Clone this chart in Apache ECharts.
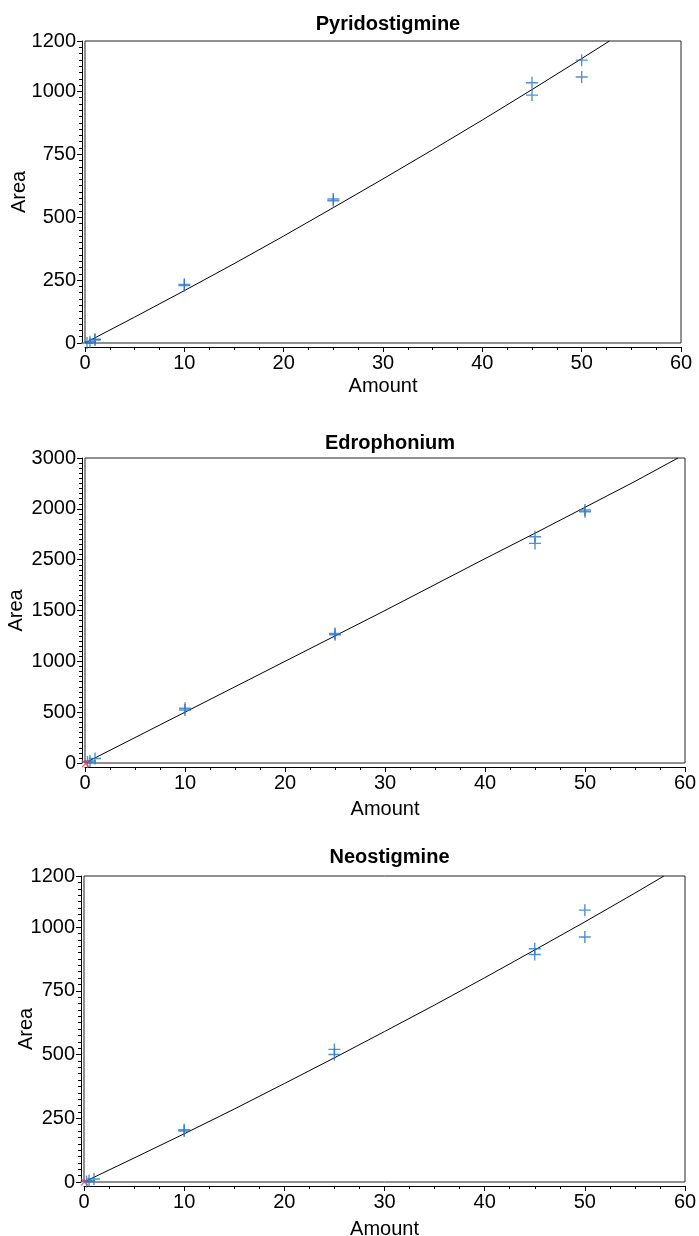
<!DOCTYPE html>
<html><head><meta charset="utf-8">
<script src="https://cdn.jsdelivr.net/npm/echarts@6/dist/echarts.min.js"></script>
<style>html,body{margin:0;padding:0;background:#fff}#c{width:699px;height:1236px}</style>
</head><body><div id="c"></div>
<script>
// ---- Data ----
const titles = ['Pyridostigmine', 'Edrophonium', 'Neostigmine'];
const xTickLabels = ['0', '10', '20', '30', '40', '50', '60'];

// Pyridostigmine
const pyrAmount = [0.2, 0.5, 1, 1, 10, 10, 25, 25, 45, 45, 50, 50];
const pyrArea   = [0, 5, 15, 12, 233, 228, 572, 565, 1034, 985, 1124, 1057];
const pyrFitX   = [0, 5, 10, 15, 20, 25, 30, 35, 40, 45, 50, 52.8];
const pyrFitY   = [0, 103, 208, 315, 425, 538, 652, 768, 886, 1007, 1130, 1200];
const pyrYTicks = ['0', '250', '500', '750', '1000', '1200'];

// Edrophonium
const edrAmount = [0.25, 0.5, 1, 10, 10, 25, 25, 45, 45, 50, 50];
const edrArea   = [10, 20, 45, 538, 521, 1275, 1262, 2226, 2160, 2488, 2472];
const edrExclAmount = [0.05];
const edrExclArea   = [-5];
const edrFitX   = [0, 5, 10, 15, 20, 25, 30, 35, 40, 45, 50, 55, 59.3];
const edrFitY   = [0, 250, 500, 750, 1000, 1250, 1500, 1755, 2010, 2260, 2515, 2770, 3000];
const edrYTicks = ['0', '500', '1000', '1500', '2500', '2000', '3000'];

// Neostigmine
const neoAmount = [0.25, 0.5, 1, 10, 10, 25, 25, 45, 45, 50, 50];
const neoArea   = [2, 5, 12, 205, 200, 520, 500, 915, 892, 1066, 961];
const neoExclAmount = [0.05];
const neoExclArea   = [0];
const neoFitX   = [0, 5, 10, 15, 20, 25, 30, 35, 40, 45, 50, 55, 57.9];
const neoFitY   = [0, 94, 189, 286, 386, 487, 590, 694, 801, 910, 1020, 1133, 1200];
const neoYTicks = ['0', '250', '500', '750', '1000', '1200'];

// ---- Build chart ----
const FONT = '"Liberation Sans", Arial, Helvetica, sans-serif';
const BLUE = '#2574c6';
const RED = '#e8464a';
const PLUS = 'path://M0,5 L10,5 M5,0 L5,10';
const XMARK = 'path://M0,0 L10,10 M10,0 L0,10';

const grids = [
  {left: 85, top: 41, width: 596, height: 302},
  {left: 85, top: 458, width: 600, height: 305},
  {left: 84, top: 876, width: 601, height: 306}
];
const titleTops = [9, 428, 842];
const yCfg = [
  {max: 1200, interval: 250, labels: pyrYTicks, nameGap: 53},
  {max: 3000, interval: 500, labels: edrYTicks, nameGap: 56},
  {max: 1200, interval: 250, labels: neoYTicks, nameGap: 45}
];
const xNameGaps = [29, 32, 33];

function pairs(xs, ys) { return xs.map((x, i) => [x, ys[i]]); }

const option = {
  animation: false,
  backgroundColor: '#fff',
  title: titles.map((t, i) => ({
    text: t, left: grids[i].left + grids[i].width / 2, top: titleTops[i], textAlign: 'center',
    textStyle: {fontFamily: FONT, fontSize: 20, fontWeight: 'bold', color: '#000'}
  })),
  grid: grids.map(g => Object.assign({show: true, borderColor: '#222', borderWidth: 1, backgroundColor: '#fff',
    containLabel: false, outerBoundsMode: 'none'}, g)),
  xAxis: grids.map((g, i) => ({
    type: 'value', gridIndex: i, min: 0, max: 60, interval: 10, offset: 4,
    name: 'Amount', nameLocation: 'middle', nameGap: xNameGaps[i], nameMoveOverlap: false,
    nameTextStyle: {fontFamily: FONT, fontSize: 20, color: '#000'},
    axisLine: {show: true, onZero: false, lineStyle: {color: '#000', width: 1}},
    axisTick: {show: true, length: 5, lineStyle: {color: '#000'}},
    minorTick: {show: true, splitNumber: 4, length: 3, lineStyle: {color: '#000'}},
    splitLine: {show: false},
    axisLabel: {fontFamily: FONT, fontSize: 20, color: '#000', margin: 6,
      formatter: v => xTickLabels[Math.round(v / 10)]}
  })),
  yAxis: grids.map((g, i) => ({
    type: 'value', gridIndex: i, min: 0, max: yCfg[i].max, interval: yCfg[i].interval, offset: 3,
    name: 'Area', nameLocation: 'middle', nameGap: yCfg[i].nameGap, nameMoveOverlap: false,
    nameTextStyle: {fontFamily: FONT, fontSize: 20, color: '#000'},
    axisLine: {show: true, onZero: false, lineStyle: {color: '#000', width: 1}},
    axisTick: {show: true, length: 5, lineStyle: {color: '#000'}},
    minorTick: {show: true, splitNumber: 10, length: 3, lineStyle: {color: '#000'}},
    splitLine: {show: false},
    axisLabel: {fontFamily: FONT, fontSize: 20, color: '#000', margin: 6,
      formatter: v => {
        const idx = Math.round(v / yCfg[i].interval);
        return v === yCfg[i].max ? yCfg[i].labels[yCfg[i].labels.length - 1] : yCfg[i].labels[idx];
      }}
  })),
  series: []
};

const fits = [[pyrFitX, pyrFitY], [edrFitX, edrFitY], [neoFitX, neoFitY]];
const pts = [[pyrAmount, pyrArea], [edrAmount, edrArea], [neoAmount, neoArea]];
const excl = [null, [edrExclAmount, edrExclArea], [neoExclAmount, neoExclArea]];

for (let i = 0; i < 3; i++) {
  option.series.push({
    type: 'line', xAxisIndex: i, yAxisIndex: i, data: pairs(fits[i][0], fits[i][1]),
    smooth: false, showSymbol: false, symbol: 'none', clip: true,
    lineStyle: {color: '#000', width: 1}, z: 2
  });
  option.series.push({
    type: 'scatter', xAxisIndex: i, yAxisIndex: i, data: pairs(pts[i][0], pts[i][1]),
    symbol: PLUS, symbolSize: 12, clip: false,
    itemStyle: {color: 'transparent', borderColor: BLUE, borderWidth: 1.4}, z: 3
  });
  if (excl[i]) {
    option.series.push({
      type: 'scatter', xAxisIndex: i, yAxisIndex: i, data: pairs(excl[i][0], excl[i][1]),
      symbol: XMARK, symbolSize: 7, clip: false,
      itemStyle: {color: 'transparent', borderColor: RED, borderWidth: 1.2}, z: 4
    });
  }
}

const chart = echarts.init(document.getElementById('c'), null, {renderer: 'canvas'});
chart.setOption(option);
</script>
</body></html>
